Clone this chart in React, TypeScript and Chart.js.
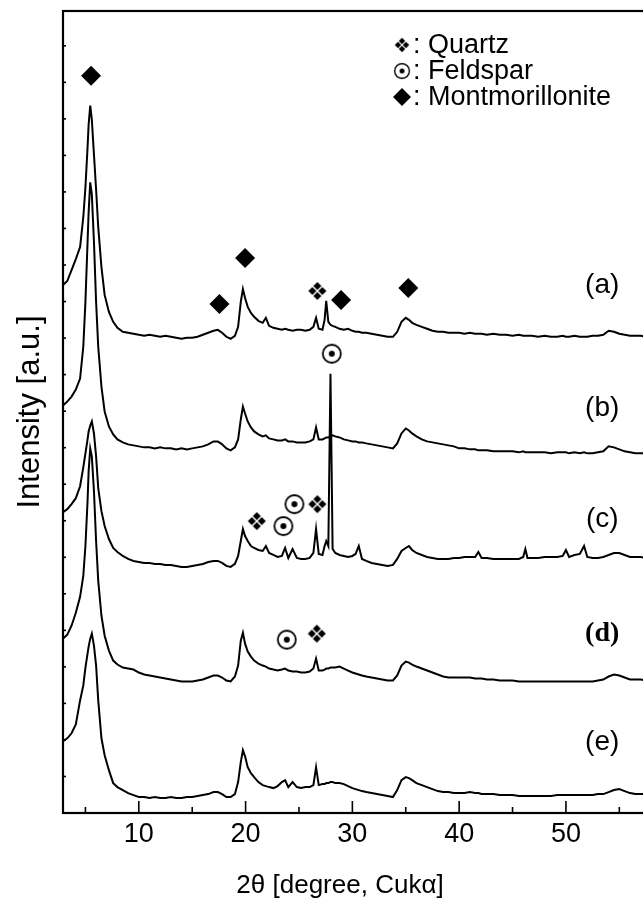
import { useEffect, useRef } from 'react';
import { Chart, registerables } from 'chart.js';

Chart.register(...registerables);

// 2θ grid (degrees)
const twoTheta = [
  2.9, 3.3, 3.7, 4.1, 4.5, 4.8, 5.0, 5.2, 5.3, 5.45,
  5.6, 5.8, 6.0, 6.2, 6.5, 6.8, 7.2, 7.6, 8.0, 8.5,
  9.0, 9.5, 10, 10.5, 11, 11.5, 12, 12.5, 13, 13.5,
  14, 14.5, 15, 15.5, 16, 16.5, 17, 17.4, 17.8, 18.2,
  18.6, 19.0, 19.3, 19.55, 19.75, 19.95, 20.2, 20.5, 20.8, 21.2,
  21.6, 21.9, 22.2, 22.6, 23.0, 23.4, 23.7, 24.0, 24.4, 24.8,
  25.2, 25.6, 26.0, 26.35, 26.6, 26.85, 27.2, 27.4, 27.55, 27.75,
  27.95, 28.15, 28.4, 28.8, 29.2, 29.6, 30.0, 30.3, 30.6, 30.9,
  31.3, 31.8, 32.3, 32.8, 33.3, 33.8, 34.2, 34.6, 35.0, 35.3,
  35.6, 36.0, 36.5, 37.0, 37.5, 38.0, 38.5, 39.0, 39.5, 40.0,
  40.5, 41.0, 41.5, 41.8, 42.1, 42.6, 43.2, 43.8, 44.4, 45.0,
  45.6, 46.0, 46.2, 46.4, 46.8, 47.4, 48.0, 48.6, 49.2, 49.7,
  50.0, 50.3, 50.8, 51.3, 51.7, 52.0, 52.5, 53.0, 53.5, 54.0,
  54.5, 55.0, 55.5, 56.0, 56.5, 57.0, 57.5, 58.0, 58.5, 59.0,
  59.5, 60.0,
];

// stacked intensities (a.u., offsets included)
const intensityA = [
  530, 534, 545, 556, 568, 598, 628, 668, 691, 710,
  696, 661, 626, 588, 548, 520, 503, 493, 487, 483,
  482, 481, 480, 479, 480, 479, 478, 479, 478, 477,
  476, 477, 477, 478, 480, 482, 484, 485, 482, 478,
  476, 479, 488, 513, 526, 517, 508, 502, 498, 494,
  492, 497, 489, 487, 486, 485, 486, 485, 484, 485,
  485, 484, 485, 488, 497, 486, 485, 495, 514, 493,
  490, 489, 488, 486, 485, 486, 484, 483, 483, 482,
  482, 481, 480, 479, 478, 478, 483, 493, 497, 495,
  492, 490, 488, 486, 484, 483, 483, 482, 482, 482,
  481, 482, 481, 481, 481, 480, 481, 480, 480, 479,
  480, 479, 479, 479, 479, 478, 479, 478, 478, 479,
  478, 478, 479, 478, 478, 478, 479, 479, 480, 484,
  483, 481, 480, 479, 479, 479, 478, 478, 478, 478,
  478, 478,
];

const intensityB = [
  409, 413, 418, 425, 436, 468, 513, 573, 603, 633,
  621, 573, 513, 468, 428, 403, 388, 380, 375, 372,
  370, 369, 368, 367, 367, 366, 367, 366, 366, 365,
  366, 365, 366, 367, 368, 370, 373, 373, 370, 366,
  364, 367, 375, 395, 408, 401, 393, 387, 383, 380,
  378, 379, 376, 375, 374, 374, 375, 373, 373, 372,
  372, 372, 373, 375, 387, 375, 375, 376, 377, 377,
  378, 379, 378, 377, 375, 374, 373, 373, 372, 372,
  371, 370, 369, 368, 367, 366, 371, 381, 386, 384,
  381, 378, 375, 373, 372, 371, 370, 369, 368, 366,
  366, 365, 365, 364, 364, 364, 363, 363, 363, 363,
  362, 363, 362, 362, 362, 362, 362, 361, 362, 362,
  362, 361, 362, 361, 362, 361, 361, 362, 363, 368,
  367, 365, 363, 362, 361, 361, 361, 361, 361, 361,
  361, 361,
];

const intensityC = [
  302, 305, 310, 316, 328, 347, 361, 375, 383, 389,
  393, 381, 358, 326, 303, 288, 275, 266, 262, 258,
  255, 253, 252, 251, 251, 250, 250, 249, 249, 248,
  247, 247, 248, 249, 250, 252, 253, 253, 251, 248,
  247, 250, 258, 273, 285, 278, 273, 268, 266, 264,
  263, 268, 261, 259, 257, 258, 266, 256, 265, 256,
  255, 255, 256, 261, 285, 260, 259, 268, 273, 268,
  441, 265, 261, 259, 258, 257, 258, 260, 268, 255,
  253, 251, 250, 249, 248, 249, 255, 263, 266, 268,
  264, 261, 259, 257, 256, 255, 255, 255, 256, 256,
  257, 257, 257, 262, 256, 256, 255, 255, 255, 255,
  255, 257, 265, 256, 256, 256, 257, 257, 257, 258,
  264, 257, 259, 260, 268, 257, 256, 256, 257, 259,
  261, 261, 259, 257, 257, 257, 256, 256, 256, 256,
  256, 256,
];

const intensityD = [
  175, 179, 188, 201, 217, 238, 268, 313, 343, 366,
  358, 323, 273, 233, 198, 178, 163, 153, 149, 146,
  145, 144, 141, 139, 138, 137, 136, 135, 134, 133,
  132, 132, 132, 133, 134, 136, 138, 138, 136, 133,
  132, 137, 148, 173, 181, 170, 162, 157, 153, 150,
  148, 147, 145, 144, 143, 144, 145, 143, 142, 142,
  141, 141, 142, 145, 155, 143, 143, 144, 145, 145,
  146, 146, 146, 147, 145, 143, 141, 140, 139, 138,
  137, 136, 135, 134, 133, 133, 138, 148, 152, 151,
  149, 147, 145, 143, 141, 139, 137, 136, 136, 136,
  136, 136, 135, 135, 135, 134, 134, 133, 133, 133,
  132, 132, 132, 132, 132, 132, 132, 132, 132, 132,
  132, 132, 132, 132, 132, 132, 132, 133, 134, 137,
  139, 138, 136, 134, 134, 134, 133, 133, 133, 133,
  133, 133,
];

const intensityE = [
  72, 75, 80, 89, 113, 128, 146, 160, 167, 175,
  180, 168, 148, 113, 75, 58, 43, 30, 26, 23,
  20, 18, 16, 16, 15, 16, 15, 15, 16, 15,
  15, 16, 16, 17, 18, 19, 21, 21, 19, 16,
  16, 19, 31, 51, 63, 57, 46, 40, 36, 31,
  28, 27, 26, 25, 27, 31, 33, 26, 31, 26,
  25, 26, 26, 28, 46, 28, 29, 29, 30, 30,
  31, 31, 30, 30, 29, 27, 25, 24, 23, 22,
  21, 20, 19, 18, 17, 16, 23, 33, 36, 35,
  33, 30, 28, 26, 24, 22, 21, 21, 20, 20,
  20, 21, 20, 20, 19, 19, 19, 18, 18, 18,
  17, 17, 17, 17, 17, 17, 17, 17, 18, 18,
  18, 18, 18, 18, 18, 18, 18, 19, 19, 21,
  23, 24, 22, 20, 19, 19, 19, 18, 18, 18,
  18, 18,
];

// phase markers (2θ, level)
const montmorilloniteTheta = [5.53, 17.55, 19.95, 28.94, 35.24];
const montmorilloniteLevel = [740, 511, 557, 515, 527];
const quartzTheta = [26.72, 21.05, 26.72, 26.67];
const quartzLevel = [524, 293, 310, 180];
const feldsparTheta = [28.07, 23.54, 24.57, 23.86];
const feldsparLevel = [461, 288, 310, 174];

// sample labels
const traceNames = ['(a)', '(b)', '(c)', '(d)', '(e)'];
const traceLabelTheta = [53.4, 53.4, 53.4, 53.4, 53.4];
const traceLabelLevel = [530, 406, 295, 180, 71];

const xMajorTicks = [10, 20, 30, 40, 50, 60];
const xMinorTicks = [5, 15, 25, 35, 45, 55];
const legendNames = ['Quartz', 'Feldspar', 'Montmorillonite'];

const X_TITLE = '2\u03b8 [degree, Cuk\u03b1]';
const Y_TITLE = 'Intensity [a.u.]';

function makeQuartzIcon(): HTMLCanvasElement {
  const c = document.createElement('canvas');
  c.width = 20; c.height = 20;
  const g = c.getContext('2d')!;
  g.fillStyle = '#000';
  const centers = [[10, 5], [5, 10], [15, 10], [10, 15]];
  for (const [cx, cy] of centers) {
    g.beginPath();
    g.moveTo(cx, cy - 4); g.lineTo(cx + 4, cy); g.lineTo(cx, cy + 4); g.lineTo(cx - 4, cy);
    g.closePath(); g.fill();
  }
  return c;
}

function makeFeldsparIcon(): HTMLCanvasElement {
  const c = document.createElement('canvas');
  c.width = 22; c.height = 22;
  const g = c.getContext('2d')!;
  g.strokeStyle = '#000'; g.fillStyle = '#000'; g.lineWidth = 1.8;
  g.beginPath(); g.arc(11, 11, 9, 0, Math.PI * 2); g.stroke();
  g.beginPath(); g.arc(11, 11, 3, 0, Math.PI * 2); g.fill();
  return c;
}

export default function App() {
  const ref = useRef<HTMLCanvasElement | null>(null);

  useEffect(() => {
    if (!ref.current) return;
    Chart.defaults.font.family = '"Liberation Sans", Arial, sans-serif';
    const quartzIcon = makeQuartzIcon();
    const feldsparIcon = makeFeldsparIcon();

    const traces = [intensityA, intensityB, intensityC, intensityD, intensityE];
    const lineSets = traces.map((arr, i) => ({
      label: traceNames[i],
      data: twoTheta.map((t, k) => ({ x: t, y: arr[k] })),
      borderColor: '#000',
      borderWidth: 2,
      pointRadius: 0,
      tension: 0,
      fill: false,
    }));

    const markerSets = [
      {
        label: 'Montmorillonite',
        type: 'scatter' as const,
        data: montmorilloniteTheta.map((t, k) => ({ x: t, y: montmorilloniteLevel[k] })),
        pointStyle: 'rectRot',
        pointRadius: 10,
        backgroundColor: '#000',
        borderColor: '#000',
        borderWidth: 0,
      },
      {
        label: 'Quartz',
        type: 'scatter' as const,
        data: quartzTheta.map((t, k) => ({ x: t, y: quartzLevel[k] })),
        pointStyle: quartzIcon,
        pointRadius: 10,
      },
      {
        label: 'Feldspar',
        type: 'scatter' as const,
        data: feldsparTheta.map((t, k) => ({ x: t, y: feldsparLevel[k] })),
        pointStyle: feldsparIcon,
        pointRadius: 10,
      },
    ];

    const decor = {
      id: 'decor',
      afterDraw(chart: any) {
        const { ctx, chartArea: ca, scales } = chart;
        const xs = scales.x, ys = scales.y;
        ctx.save();
        ctx.strokeStyle = '#000';
        ctx.lineWidth = 1.6;
        const seg = (x1: number, y1: number, x2: number, y2: number) => {
          ctx.beginPath(); ctx.moveTo(x1, y1); ctx.lineTo(x2, y2); ctx.stroke();
        };
        for (const v of xMinorTicks) { const p = xs.getPixelForValue(v); seg(p, ca.bottom, p, ca.bottom - 6); }
        for (const v of xMajorTicks) { const p = xs.getPixelForValue(v); seg(p, ca.bottom, p, ca.bottom - 12); }
        for (const t of ys.ticks) { const p = ys.getPixelForValue(t.value); seg(ca.left, p, ca.left + 3, p); }
        ctx.lineWidth = 2.2;
        ctx.strokeRect(ca.left, ca.top, ca.right - ca.left, ca.bottom - ca.top);

        ctx.fillStyle = '#000';
        ctx.textAlign = 'center';
        ctx.textBaseline = 'middle';
        traceNames.forEach((n, i) => {
          ctx.font = i === 3 ? 'bold 28px "Liberation Serif"' : '28px "Liberation Sans"';
          ctx.fillText(n, xs.getPixelForValue(traceLabelTheta[i]), ys.getPixelForValue(traceLabelLevel[i]));
        });

        ctx.font = '26px "Liberation Sans"';
        ctx.fillText(X_TITLE, 340, 886);

        // legend
        const rows = [45, 71, 97];
        const sx = 402;
        ctx.textAlign = 'left';
        ctx.font = '27px "Liberation Sans"';
        rows.forEach((ry, i) => {
          if (i === 0) ctx.drawImage(quartzIcon, sx - 8, ry - 8, 16, 16);
          else if (i === 1) ctx.drawImage(feldsparIcon, sx - 9, ry - 9, 18, 18);
          else {
            ctx.beginPath();
            ctx.moveTo(sx, ry - 9); ctx.lineTo(sx + 9, ry); ctx.lineTo(sx, ry + 9); ctx.lineTo(sx - 9, ry);
            ctx.closePath(); ctx.fill();
          }
          ctx.fillText(': ' + legendNames[i], sx + 11, ry + 1);
        });
        ctx.restore();
      },
    };

    const chart = new Chart(ref.current, {
      type: 'line',
      data: { datasets: [...lineSets, ...markerSets] as any },
      options: {
        responsive: false,
        animation: false,
        layout: { padding: { left: 0, top: 8, right: 27.3, bottom: 0 } },
        plugins: { legend: { display: false }, tooltip: { enabled: false } },
        scales: {
          x: {
            type: 'linear',
            min: 2.9,
            max: 60,
            grid: { display: false, drawTicks: false },
            border: { display: false },
            afterBuildTicks: (s: any) => { s.ticks = xMajorTicks.map((v) => ({ value: v })); },
            afterFit: (s: any) => { s.height = 93; },
            ticks: { font: { size: 27 }, color: '#000', padding: 5, maxRotation: 0, autoSkip: false },
          },
          y: {
            type: 'linear',
            min: 0,
            max: 805,
            grid: { display: false, drawTicks: false },
            border: { display: false },
            afterBuildTicks: (s: any) => { s.ticks = Array.from({ length: 22 }, (_, k) => ({ value: k * 36.67 })); },
            afterFit: (s: any) => { s.width = 63; },
            ticks: { display: false },
            title: { display: true, text: Y_TITLE, font: { size: 31 }, color: '#000', padding: { top: 12, bottom: 0 } },
          },
        },
      },
      plugins: [decor],
    });
    return () => chart.destroy();
  }, []);

  return (
    <div style={{ position: 'absolute', left: 0, top: 0, width: 643, height: 906, overflow: 'hidden', background: '#fff' }}>
      <canvas ref={ref} width={700} height={906} style={{ display: 'block' }} />
    </div>
  );
}
